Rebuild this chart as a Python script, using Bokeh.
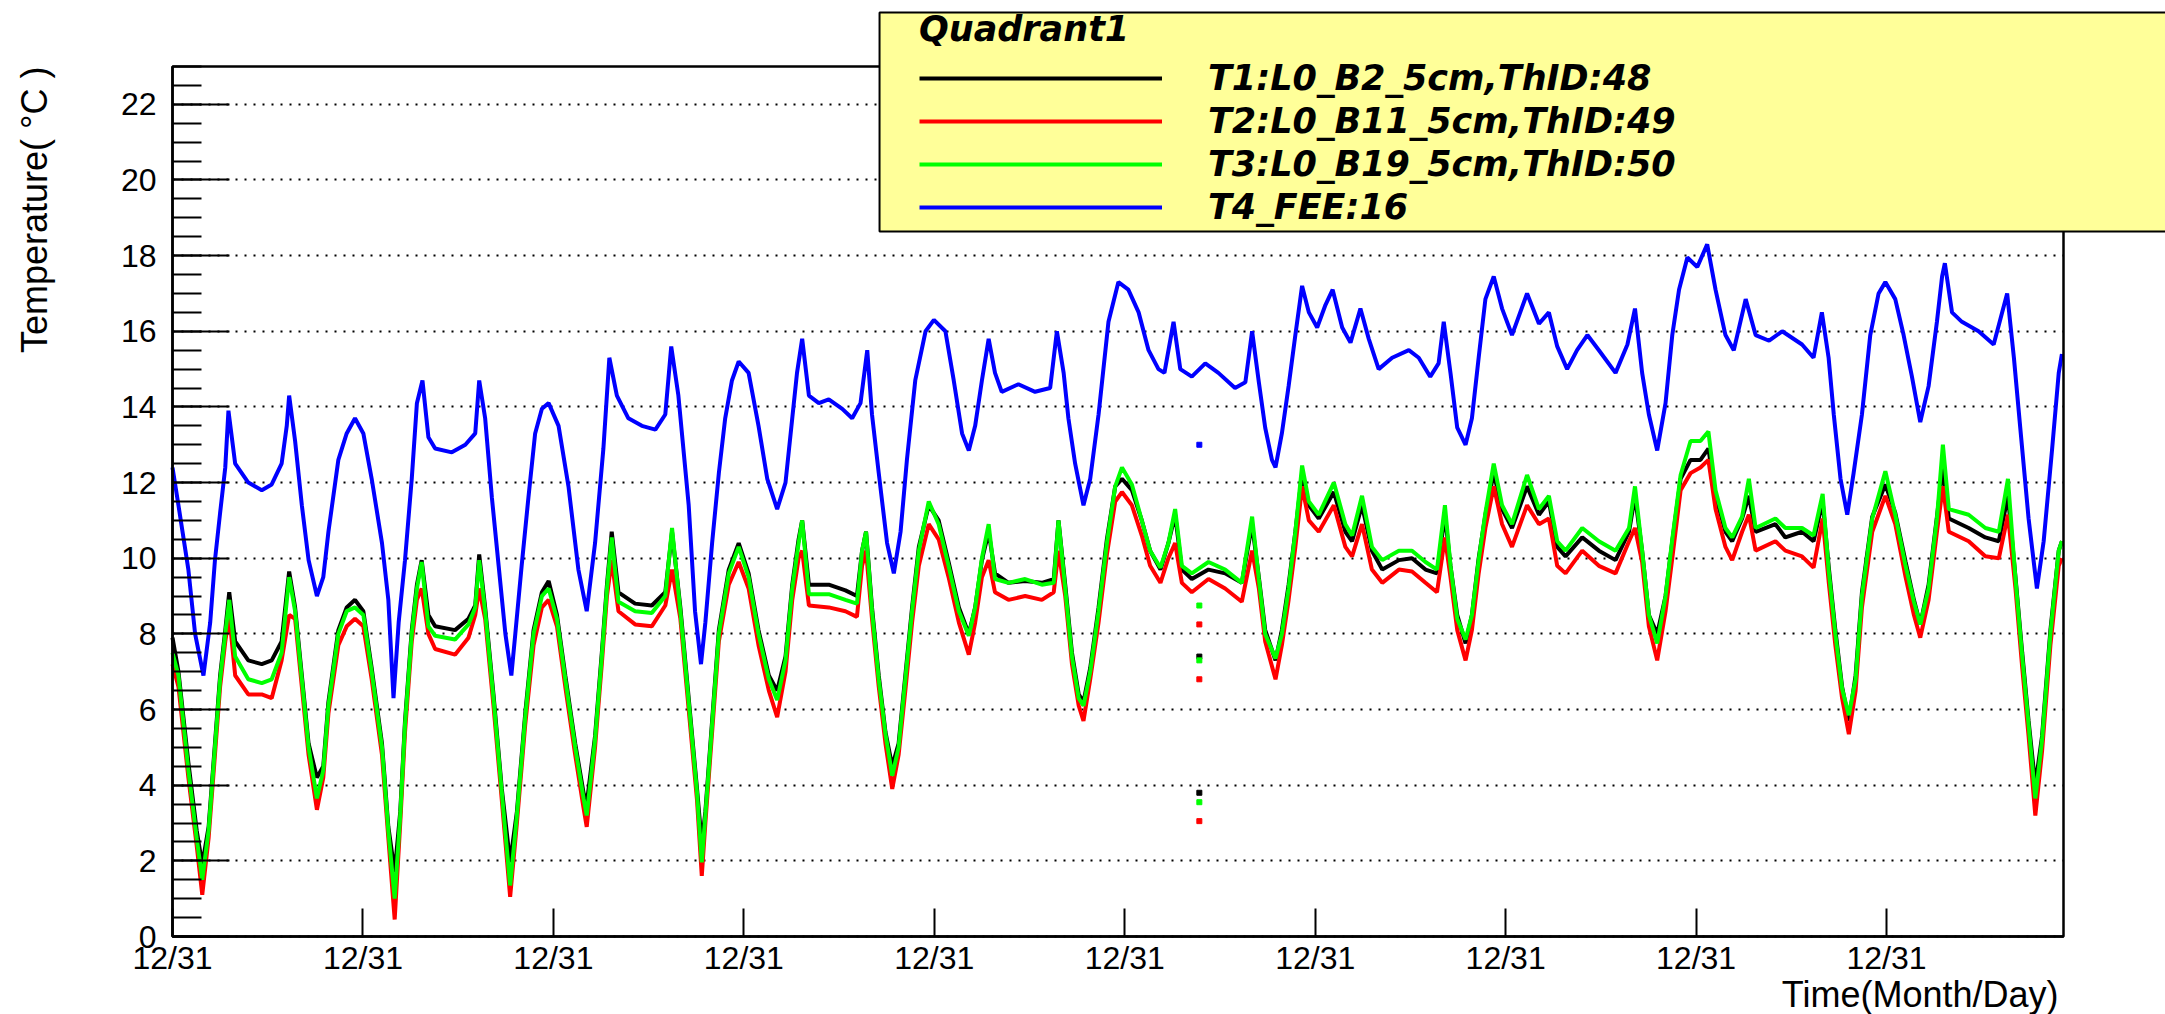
import numpy as np
from bokeh.plotting import figure
from bokeh.models import (ColumnDataSource, Range1d, FixedTicker, Legend, LegendItem,
                          Label, BoxAnnotation)
from bokeh.embed import file_html
from bokeh.resources import INLINE

# ---------------- data (time in hours from start, temperature in degC) ----------------
hours = [0.0, 1.5, 4.0, 6.1, 7.5, 9.1, 10.7, 12.0, 13.3, 14.3, 15.8, 19.1, 22.5, 25.0, 27.5, 29.4,
         30.9, 32.6, 34.3, 36.4, 38.0, 39.3, 41.8, 43.9, 46.0, 48.1, 50.2, 52.8, 54.4, 56.0, 57.4,
         58.6, 60.3, 61.6, 62.8, 64.5, 66.2, 71.2, 74.6, 76.3, 77.3, 78.8, 80.9, 83.0, 85.1, 86.8,
         88.9, 91.0, 93.1, 94.8, 96.9, 99.0, 101.5, 103.6, 104.4, 106.5, 108.2, 109.5, 110.7, 112.4,
         116.6, 120.8, 124.2, 125.9, 128.0, 130.1, 132.2, 133.4, 134.3, 136.0, 137.7, 140.2, 142.7,
         145.2, 147.7, 150.3, 152.4, 154.5, 156.2, 157.8, 158.7, 160.4, 165.4, 169.6, 172.5, 173.8,
         174.8, 176.3, 178.0, 179.7, 181.4, 183.0, 184.7, 186.4, 188.1, 190.6, 193.1, 195.6, 198.2,
         200.7, 202.3, 204.0, 205.7, 207.3, 210.7, 214.9, 219.1, 222.1, 223.3, 225.0, 226.7, 228.4,
         229.6, 231.3, 233.4, 235.5, 237.6, 239.3, 241.8, 244.3, 246.4, 249.0, 251.0, 252.7, 254.4,
         256.9, 261.1, 265.3, 269.5, 272.1, 273.8, 275.4, 278.0, 279.6, 281.3, 283.0, 284.7, 286.4,
         288.9, 292.7, 295.6, 297.3, 299.8, 302.3, 304.9, 309.1, 312.4, 315.8, 318.7, 320.7, 322.1,
         323.8, 325.9, 327.5, 329.2, 330.9, 333.0, 335.1, 337.6, 341.4, 344.4, 346.9, 349.0, 351.1,
         355.3, 359.5, 363.7, 367.1, 368.6, 370.4, 372.1, 374.2, 376.3, 378.0, 380.1, 382.6, 385.1,
         387.1, 388.9, 391.4, 393.1, 395.6, 397.3, 399.0, 404.0, 406.5, 410.7, 413.6, 415.9, 417.4,
         419.1, 420.8, 422.5, 424.2, 425.8, 428.4, 431.7, 434.2, 436.8, 438.9, 440.5, 442.6, 444.7,
         446.2, 447.7, 452.7, 456.9, 460.3, 462.6, 464.5, 466.2, 467.8, 469.5, 471.2, 473.3, 475.4,
         476.2]

t1 = [7.9, 7.0, 4.6, 2.8, 1.9, 2.9, 5.1, 6.9, 8.1, 9.1, 7.8, 7.3, 7.2, 7.3, 7.8, 9.65,
      8.7, 6.9, 5.1, 4.2, 4.5, 6.2, 8.1, 8.7, 8.9, 8.6, 7.1, 5.1, 2.9, 1.7, 3.3,
      5.7, 8.1, 9.3, 9.95, 8.5, 8.2, 8.1, 8.4, 8.75, 10.1, 8.7, 6.4, 3.9, 1.96, 3.3,
      5.9, 8.1, 9.1, 9.4, 8.5, 6.9, 5.1, 3.8, 3.5, 5.3, 7.5, 9.3, 10.7, 9.1,
      8.8, 8.75, 9.1, 10.7, 8.7, 6.3, 3.9, 2.45, 3.3, 5.7, 8.1, 9.7, 10.4,
      9.6, 8.1, 6.9, 6.5, 7.4, 9.3, 10.5, 11.0, 9.3, 9.3, 9.15, 9.0, 10.2,
      10.7, 8.7, 6.9, 5.4, 4.5, 5.1, 6.9, 8.7, 10.3, 11.4, 11.0, 9.9, 8.7,
      8.0, 8.7, 9.95, 10.7, 9.6, 9.35, 9.4, 9.35, 9.45, 11.0, 9.3, 7.5, 6.4,
      6.2, 7.1, 8.7, 10.5, 11.9, 12.1, 11.8, 11.0, 10.2, 9.7, 10.4, 11.15, 9.7,
      9.45, 9.7, 9.6, 9.35, 10.9, 9.5, 8.1, 7.3, 8.1, 9.3, 10.7, 12.25, 11.4,
      11.05, 11.75, 10.7, 10.45, 11.4, 10.2, 9.7, 9.95, 10.0, 9.7, 9.6, 11.15, 9.8,
      8.5, 7.75, 8.5, 10.0, 11.15, 12.25, 11.3, 10.8, 11.9, 11.15, 11.5, 10.3, 10.05,
      10.55, 10.2, 9.95, 10.7, 11.65, 10.2, 8.5, 8.0, 9.0, 10.45, 12.1, 12.6, 12.6,
      12.9, 11.65, 10.7, 10.45, 11.05, 11.65, 10.7, 10.9, 10.55, 10.7, 10.45, 11.5, 9.8,
      8.1, 6.6, 5.7, 6.9, 9.1, 11.1, 11.95, 11.2, 9.9, 8.9, 8.25, 9.3, 11.1,
      12.4, 11.05, 10.8, 10.55, 10.45, 11.65, 9.5, 7.5, 5.7, 4.0, 5.3, 8.1, 10.2,
      10.45]

t2 = [7.2, 6.6, 4.2, 2.4, 1.1, 2.6, 4.8, 6.6, 7.8, 8.5, 6.9, 6.4, 6.4, 6.3, 7.3, 8.5,
      8.4, 6.6, 4.8, 3.35, 4.2, 5.9, 7.7, 8.2, 8.4, 8.2, 6.8, 4.8, 2.6, 0.45, 3.0,
      5.4, 7.8, 8.9, 9.2, 8.0, 7.6, 7.45, 7.9, 8.5, 9.2, 8.4, 6.1, 3.6, 1.05, 3.0,
      5.6, 7.7, 8.7, 8.9, 8.2, 6.6, 4.8, 3.4, 2.9, 5.0, 7.2, 9.0, 9.95, 8.6,
      8.25, 8.2, 8.75, 9.7, 8.4, 6.0, 3.6, 1.6, 3.0, 5.4, 7.8, 9.3, 9.9,
      9.2, 7.7, 6.5, 5.8, 7.0, 8.9, 10.0, 10.2, 8.75, 8.7, 8.6, 8.45, 9.8,
      10.2, 8.4, 6.6, 5.1, 3.9, 4.8, 6.5, 8.3, 9.8, 10.9, 10.5, 9.5, 8.3,
      7.45, 8.3, 9.5, 9.95, 9.1, 8.9, 9.0, 8.9, 9.1, 10.2, 9.0, 7.2, 6.1,
      5.7, 6.8, 8.3, 10.1, 11.5, 11.75, 11.4, 10.6, 9.8, 9.35, 10.0, 10.4, 9.35,
      9.1, 9.45, 9.2, 8.85, 10.2, 9.2, 7.8, 6.8, 7.7, 8.9, 10.3, 11.9, 11.0,
      10.7, 11.4, 10.3, 10.05, 10.9, 9.7, 9.35, 9.7, 9.65, 9.35, 9.1, 10.55, 9.5,
      8.1, 7.3, 8.1, 9.6, 10.8, 11.9, 10.9, 10.3, 11.4, 10.9, 11.05, 9.8, 9.6,
      10.2, 9.8, 9.6, 10.45, 10.8, 9.9, 8.2, 7.3, 8.6, 10.0, 11.8, 12.25, 12.4,
      12.6, 11.3, 10.3, 9.95, 10.7, 11.15, 10.2, 10.45, 10.2, 10.05, 9.75, 11.05, 9.4,
      7.7, 6.3, 5.35, 6.5, 8.7, 10.7, 11.65, 10.9, 9.5, 8.5, 7.9, 8.9, 10.7,
      11.9, 10.7, 10.45, 10.05, 10.0, 11.15, 9.2, 7.1, 5.3, 3.2, 4.9, 7.7, 9.8,
      10.0]

t3 = [7.5, 6.9, 4.4, 2.6, 1.5, 2.8, 5.0, 6.8, 8.0, 8.9, 7.4, 6.8, 6.7, 6.8, 7.5, 9.5,
      8.6, 6.8, 5.0, 3.65, 4.4, 6.1, 8.0, 8.6, 8.7, 8.5, 7.0, 5.0, 2.8, 1.0, 3.2,
      5.6, 8.0, 9.2, 9.9, 8.2, 7.95, 7.85, 8.25, 8.7, 9.95, 8.6, 6.3, 3.8, 1.35, 3.2,
      5.8, 8.0, 9.0, 9.2, 8.4, 6.8, 5.0, 3.65, 3.2, 5.2, 7.4, 9.2, 10.55, 8.85,
      8.6, 8.55, 9.0, 10.8, 8.6, 6.2, 3.8, 1.96, 3.2, 5.6, 8.0, 9.6, 10.3,
      9.5, 8.0, 6.8, 6.25, 7.3, 9.2, 10.4, 11.0, 9.05, 9.05, 8.9, 8.8, 10.2,
      10.7, 8.6, 6.8, 5.35, 4.25, 5.0, 6.8, 8.6, 10.2, 11.5, 10.9, 9.8, 8.6,
      7.95, 8.7, 10.0, 10.9, 9.45, 9.35, 9.45, 9.3, 9.35, 11.0, 9.2, 7.4, 6.3,
      6.1, 7.0, 8.6, 10.4, 11.9, 12.4, 11.95, 11.0, 10.2, 9.75, 10.4, 11.3, 9.8,
      9.6, 9.9, 9.7, 9.35, 11.1, 9.45, 8.0, 7.35, 8.0, 9.2, 10.7, 12.45, 11.5,
      11.15, 12.0, 10.9, 10.6, 11.65, 10.3, 9.95, 10.2, 10.2, 9.9, 9.7, 11.4, 9.8,
      8.4, 7.85, 8.5, 9.95, 11.2, 12.5, 11.4, 10.9, 12.2, 11.3, 11.65, 10.45, 10.2,
      10.8, 10.45, 10.2, 10.8, 11.9, 10.2, 8.5, 7.75, 9.0, 10.5, 12.2, 13.1, 13.1,
      13.35, 11.8, 10.8, 10.55, 11.1, 12.1, 10.8, 11.05, 10.8, 10.8, 10.6, 11.7, 9.7,
      8.0, 6.55, 5.85, 6.8, 9.0, 11.05, 12.3, 11.15, 9.8, 8.85, 8.25, 9.2, 11.05,
      13.0, 11.3, 11.15, 10.8, 10.7, 12.1, 9.45, 7.4, 5.6, 3.65, 5.2, 8.0, 10.2,
      10.45]

fee_hours = [0.0, 1.5, 4.0, 5.7, 7.8, 9.5, 10.7, 12.0, 13.3, 14.1, 15.8, 19.1, 22.5, 25.0, 27.5,
             28.8, 29.4, 30.9, 32.6, 34.3, 36.4, 38.0, 39.3, 41.8, 43.9, 46.0, 48.1, 50.2, 52.8,
             54.4, 55.7, 57.0, 58.6, 60.3, 61.6, 63.0, 64.5, 66.2, 70.4, 73.8, 76.3, 77.3, 78.8,
             80.5, 82.2, 83.9, 85.4, 86.4, 88.0, 89.7, 91.4, 93.1, 94.8, 97.3, 99.8, 102.3, 104.4,
             106.5, 108.6, 110.1, 112.0, 114.9, 118.3, 121.7, 124.2, 125.7, 127.5, 130.1, 131.7,
             133.2, 134.3, 136.0, 137.7, 139.3, 141.0, 142.7, 145.2, 147.7, 149.9, 152.4, 154.5,
             156.2, 157.4, 158.7, 160.4, 162.9, 165.4, 168.8, 171.3, 173.4, 175.1, 176.3, 178.0,
             180.1, 181.8, 183.5, 185.1, 187.2, 189.8, 191.9, 194.8, 196.9, 199.0, 200.7, 202.3,
             204.0, 205.7, 207.3, 209.0, 213.2, 217.4, 221.2, 222.9, 224.6, 225.8, 227.5, 229.6,
             231.3, 233.4, 235.9, 238.4, 240.9, 243.5, 246.0, 248.5, 250.0, 252.3, 254.0, 256.9,
             260.3, 263.6, 267.8, 270.4, 272.1, 273.8, 275.4, 277.1, 278.0, 279.6, 281.3, 283.0,
             284.7, 286.4, 288.5, 290.6, 292.4, 294.8, 296.9, 299.4, 301.5, 304.0, 307.4, 311.6,
             314.1, 317.0, 319.1, 320.4, 322.1, 323.8, 325.9, 327.5, 329.2, 330.9, 333.0, 335.1,
             337.6, 341.4, 344.4, 346.9, 349.0, 351.5, 354.0, 356.6, 359.5, 363.7, 366.7, 368.6,
             370.4, 372.1, 374.2, 376.3, 378.0, 379.7, 381.8, 384.3, 386.8, 388.9, 391.4, 393.5,
             396.5, 399.0, 402.4, 405.7, 410.7, 413.6, 415.7, 417.4, 418.7, 420.4, 422.1, 423.7,
             425.8, 427.9, 430.0, 431.7, 434.2, 436.3, 438.4, 440.5, 442.6, 444.7, 446.0, 446.7,
             448.5, 451.0, 455.2, 459.0, 462.4, 464.1, 465.7, 467.8, 469.9, 471.6, 473.7, 475.4,
             476.2]

t4 = [12.4, 11.4, 9.7, 8.0, 6.9, 8.3, 9.95, 11.2, 12.4, 13.9, 12.5, 12.0, 11.8, 11.95, 12.5,
      13.5, 14.3, 13.1, 11.4, 9.95, 9.0, 9.5, 10.7, 12.6, 13.3, 13.7, 13.3, 12.1, 10.4,
      8.9, 6.3, 8.3, 9.95, 12.1, 14.1, 14.7, 13.2, 12.9, 12.8, 13.0, 13.3, 14.7, 13.7,
      11.6, 9.8, 8.0, 6.9, 8.0, 9.8, 11.6, 13.3, 13.95, 14.1, 13.5, 11.9, 9.7, 8.6,
      10.4, 12.9, 15.3, 14.3, 13.7, 13.5, 13.4, 13.8, 15.6, 14.3, 11.4, 8.6,
      7.2, 8.3, 10.4, 12.25, 13.7, 14.7, 15.2, 14.9, 13.5, 12.1, 11.3, 12.0,
      13.7, 14.9, 15.8, 14.3, 14.1, 14.2, 13.95, 13.7, 14.1, 15.5, 13.8, 12.25,
      10.4, 9.6, 10.7, 12.6, 14.7, 16.0, 16.3, 16.0, 14.7, 13.3, 12.85, 13.5,
      14.7, 15.8, 14.9, 14.4, 14.6, 14.4, 14.5, 16.0, 14.9, 13.7, 12.5, 11.4,
      12.1, 13.8, 16.25, 17.3, 17.1, 16.5, 15.5, 15.0, 14.9, 16.25, 15.0, 14.8,
      15.15, 14.9, 14.5, 14.65, 16.0, 14.65, 13.45, 12.6, 12.4, 13.3, 14.55, 15.9,
      17.2, 16.5, 16.1, 16.7, 17.1, 16.1, 15.7, 16.6, 15.8, 15.0, 15.3, 15.5,
      15.3, 14.8, 15.15, 16.25, 14.9, 13.45, 13.0, 13.7, 15.3, 16.85, 17.45, 16.6,
      15.9, 17.0, 16.2, 16.5, 15.6, 15.0, 15.5, 15.9, 15.5, 14.9, 15.65, 16.6,
      14.9, 13.8, 12.85, 14.1, 15.9, 17.1, 17.95, 17.7, 18.3, 17.1, 15.9, 15.5,
      16.85, 15.9, 15.75, 16.0, 15.65, 15.3, 16.5, 15.3, 13.8, 12.1, 11.15, 12.25,
      13.8, 15.9, 17.0, 17.3, 16.85, 15.9, 14.8, 13.6, 14.55, 16.25, 17.45, 17.8,
      16.5, 16.25, 16.0, 15.65, 17.0, 15.3, 13.45, 11.05, 9.2, 10.45, 12.85, 14.9,
      15.4]

# isolated readout glitch (all sensors, same instant)
glitch_hour = 258.8
t1_glitch = [7.4, 3.8]
t2_glitch = [8.25, 6.8, 3.05]
t3_glitch = [8.75, 7.3, 3.55]
t4_glitch = [13.0]

x_ticks = [0, 48, 96, 144, 192, 240, 288, 336, 384, 432]
x_tick_labels = ["12/31"] * 10
y_ticks = [0, 2, 4, 6, 8, 10, 12, 14, 16, 18, 20, 22]
y_minor = [i * 0.5 for i in range(47)]

series_names = ["T1:L0_B2_5cm,ThID:48", "T2:L0_B11_5cm,ThID:49",
                "T3:L0_B19_5cm,ThID:50", "T4_FEE:16"]
series_colors = ["#000000", "#ff0000", "#00ff00", "#0000ff"]

# plotted window (the ROOT frame) in data units
X_MIN, X_MAX = 0.0, 476.6
Y_MIN, Y_MAX = 0.0, 23.0

# ---------------- figure ----------------
# The drawing area covers the whole canvas so that the legend box and the axis
# titles (which lie outside the ROOT frame) are not clipped; the axes are pinned.
W, H = 2165, 1014
FL, FR, FT, FB = 172, 2063, 66, 936          # ROOT frame edges on the canvas
sx = (X_MAX - X_MIN) / (FR - FL)
sy = (Y_MAX - Y_MIN) / (FB - FT)
p = figure(width=W, height=H, output_backend="svg", toolbar_location=None,
           x_range=Range1d(X_MIN - FL * sx, X_MAX + (W - FR) * sx),
           y_range=Range1d(Y_MIN - (H - FB) * sy, Y_MAX + FT * sy),
           min_border=0, background_fill_color="white", border_fill_color="white")
p.outline_line_color = None

p.xgrid.visible = False
g = p.ygrid[0]
grid_dash, grid_width = "2 7", 2
if "cross_bounds" in g.properties():
    g.grid_line_color = "black"
    g.grid_line_dash = grid_dash
    g.grid_line_width = grid_width
    g.bounds = (Y_MIN, Y_MAX)
    g.cross_bounds = (X_MIN, X_MAX)
else:
    g.visible = False
    p.segment(x0=[X_MIN] * len(y_ticks), x1=[X_MAX] * len(y_ticks), y0=y_ticks, y1=y_ticks,
              line_color="black", line_dash=grid_dash, line_width=grid_width)

xa = p.xaxis[0]
xa.fixed_location = Y_MIN
xa.bounds = (X_MIN, X_MAX)
xa.ticker = FixedTicker(ticks=x_ticks, minor_ticks=[])
xa.major_label_overrides = {t: lab for t, lab in zip(x_ticks, x_tick_labels)}
xa.major_tick_in = 28
xa.major_tick_out = 0
xa.minor_tick_in = 0
xa.minor_tick_out = 0
xa.major_tick_line_width = 2
xa.axis_line_width = 2.5
xa.major_label_standoff = 3
xa.major_label_text_font = "Liberation Sans"
xa.major_label_text_font_size = "32px"
xa.major_label_text_color = "black"

ya = p.yaxis[0]
ya.fixed_location = X_MIN
ya.bounds = (Y_MIN, Y_MAX)
ya.ticker = FixedTicker(ticks=y_ticks, minor_ticks=y_minor)
ya.major_tick_in = 57
ya.major_tick_out = 0
ya.minor_tick_in = 29
ya.minor_tick_out = 0
ya.major_tick_line_width = 2
ya.minor_tick_line_width = 2
ya.axis_line_width = 2.5
ya.major_label_standoff = 16
ya.major_label_text_font = "Liberation Sans"
ya.major_label_text_font_size = "32px"
ya.major_label_text_color = "black"

src_low = ColumnDataSource(dict(hours=hours, t1=t1, t2=t2, t3=t3))
src_fee = ColumnDataSource(dict(hours=fee_hours, t4=t4))

lw = 4
r1 = p.line("hours", "t1", source=src_low, line_color=series_colors[0], line_width=lw)
r2 = p.line("hours", "t2", source=src_low, line_color=series_colors[1], line_width=lw)
r3 = p.line("hours", "t3", source=src_low, line_color=series_colors[2], line_width=lw)
r4 = p.line("hours", "t4", source=src_fee, line_color=series_colors[3], line_width=lw)

for vals, col in zip([t1_glitch, t2_glitch, t3_glitch, t4_glitch], series_colors):
    p.scatter(x=[glitch_hour] * len(vals), y=vals, marker="square", size=5,
              fill_color=col, line_color=col)

# ROOT frame border
p.add_layout(BoxAnnotation(left=X_MIN, right=X_MAX, bottom=Y_MIN, top=Y_MAX,
                           fill_alpha=0.0, line_color="black", line_width=2.5, line_alpha=1.0))

# yellow legend box (reaches above the frame and off the right edge)
p.add_layout(BoxAnnotation(left=178.2, right=600.0, bottom=18.64, top=24.43,
                           fill_color="#ffff99", fill_alpha=1.0,
                           line_color="black", line_width=2, line_alpha=1.0))

items = [LegendItem(label=n, renderers=[r]) for n, r in zip(series_names, [r1, r2, r3, r4])]
legend = Legend(items=items, location=(886, 754), title="Quadrant1",
                title_text_font="DejaVu Sans", title_text_font_style="bold italic",
                title_text_font_size="35px", title_text_color="black", title_standoff=9,
                label_text_font="DejaVu Sans", label_text_font_style="bold italic",
                label_text_font_size="35px", label_text_color="black",
                glyph_width=243, glyph_height=40, label_height=40, label_standoff=46,
                spacing=3, padding=33, margin=0,
                background_fill_alpha=0.0, border_line_alpha=0.0)
p.add_layout(legend)

# axis titles (ROOT style: aligned at the axis ends)
p.add_layout(Label(x=2058, y=20, x_units="screen", y_units="screen",
                   text="Time(Month/Day)", text_align="right", text_baseline="middle",
                   text_font="Liberation Sans", text_font_size="36px", text_color="black"))
p.add_layout(Label(x=34, y=H - FT, x_units="screen", y_units="screen", angle=np.pi / 2,
                   text="Temperature( °C )", text_align="right", text_baseline="middle",
                   text_font="Liberation Sans", text_font_size="36px", text_color="black"))

open("out.html", "w").write(file_html(p, INLINE))
